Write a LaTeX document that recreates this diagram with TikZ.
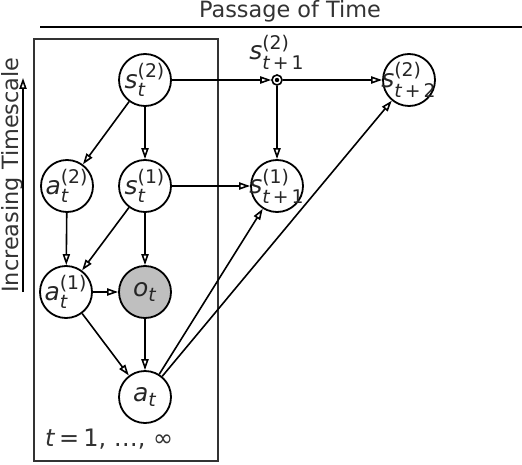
\documentclass[tikz,border=0pt]{standalone}
\usepackage{amsmath}
\usepackage{fontspec}
\setmainfont{DejaVu Sans}
\usetikzlibrary{shapes, positioning, arrows.meta, calc}

\DeclareMathSizes{12.5}{12.5}{9.4}{7}
\newcommand{\varlab}[3]{$\textit{#1}_{\text{#2}}^{\text{(#3)}}$}

\begin{document}
\begin{tikzpicture}[x=0.5pt, y=-0.5pt, font=\fontsize{11.2}{13}\selectfont,
    var/.style={circle, draw, line width=0.9pt, minimum size=26pt, inner sep=0pt,
        label={[text=black!85, font=\fontsize{12.5}{14}\selectfont]center:#1}},
    edge/.style={-{Triangle[open, length=5.5pt, width=3.6pt]}, line width=0.8pt}]
    \useasboundingbox (0,0) rectangle (522,464);
    % title and timescale axis
    \node[text=black!80] (title) at (290,11) {Passage of Time};
    \draw[line width=0.9pt] (40,27) -- (522,27);
    \node[rotate=90, text=black!80] (scale) at (12,175) {Increasing Timescale};
    \draw[edge] (23,292) -- (23,78);
    % plate
    \draw[line width=0.9pt, black!80] (34,39) rectangle (218,461);
    \node[anchor=west, text=black!80, font=\fontsize{12}{14}\selectfont] (plate) at (38,439)
        {\textit{t}\,=\,1,\ …,\ ∞};
    % variables in the plate
    \node[var={\varlab{s}{\itshape t}{2}}] (s2) at (145,80) {};
    \node[var={\varlab{a}{\itshape t}{2}}] (a2) at (67,186) {};
    \node[var={\varlab{s}{\itshape t}{1}}] (s1) at (145,186) {};
    \node[var={\varlab{a}{\itshape t}{1}}] (a1) at (66,292) {};
    \node[var={\textit{o}$_{\text{\itshape t}}$}, fill=black!25] (o) at (145,292) {};
    \node[var={\textit{a}$_{\text{\itshape t}}$}] (a) at (145,397) {};
    % future variables
    \node[circle, draw, line width=0.8pt, minimum size=5pt, inner sep=0pt] (d2) at (277,80) {};
    \fill (d2.center) circle (1.1pt);
    \node[above=-1pt of d2, text=black!85, font=\fontsize{12.5}{14}\selectfont] (d2lab)
        {\varlab{s}{\itshape t\,\upshape+\,1}{2}};
    \node[var={\varlab{s}{\itshape t\,\upshape+\,1}{1}}] (n1) at (277,186) {};
    \node[var={\varlab{s}{\itshape t\,\upshape+\,2}{2}}] (n2) at (409,80) {};
    % edges
    \foreach \u/\v in {s2/d2, d2/n2, d2/n1, s1/n1, s2/a2, s2/s1, a2/a1,
        s1/a1, s1/o, a1/o, a1/a, o/a, a/n1, a/n2} {
        \draw[edge] (\u) -- (\v);
    }
\end{tikzpicture}
\end{document}
